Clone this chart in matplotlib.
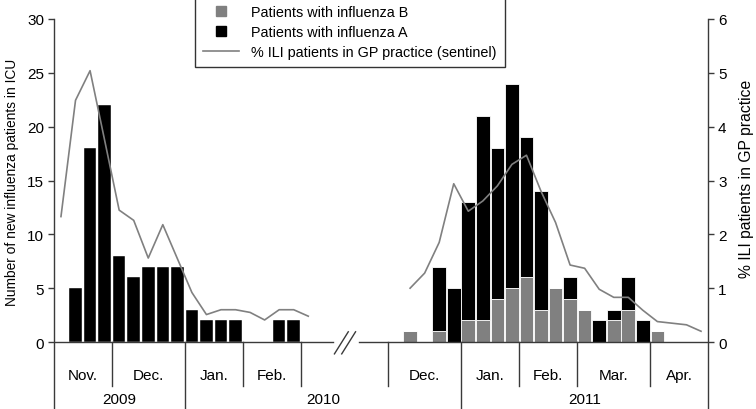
import matplotlib
matplotlib.use("Agg")
import matplotlib.pyplot as plt
import numpy as np
from matplotlib.lines import Line2D

plt.rcParams['font.family'] = ['Liberation Sans', 'DejaVu Sans']
plt.rcParams['font.size'] = 11

# ---------------- data ----------------
# Season 2009/10 (weekly, starting early Nov 2009)
ili_2009 = [2.33, 4.49, 5.04, 3.75, 2.45, 2.26, 1.56, 2.18, 1.55, 0.92,
            0.51, 0.60, 0.60, 0.55, 0.41, 0.60, 0.60, 0.48]
fluA_2009 = [0, 5, 18, 22, 8, 6, 7, 7, 7, 3, 2, 2, 2, 0, 0, 2, 2]

# Season 2010/11 (weekly, starting early Dec 2010)
ili_2011 = [1.00, 1.28, 1.85, 2.94, 2.43, 2.62, 2.90, 3.30, 3.47, 2.80,
            2.22, 1.43, 1.37, 0.98, 0.83, 0.83, 0.59, 0.38, 0.35, 0.32, 0.20]
fluA_2011 = [0, 0, 6, 5, 11, 19, 14, 19, 13, 11, 0, 2, 0, 2, 1, 3, 2, 0]
fluB_2011 = [1, 0, 1, 0, 2, 2, 4, 5, 6, 3, 5, 4, 3, 0, 2, 3, 0, 1]

months_2009 = ["Nov.", "Dec.", "Jan.", "Feb."]
months_2011 = ["Dec.", "Jan.", "Feb.", "Mar.", "Apr."]
years = ["2009", "2010", "2011"]

legend_labels = ["Patients with influenza B", "Patients with influenza A",
                 "% ILI patients in GP practice (sentinel)"]

# ---------------- layout ----------------
W, H = 756, 410
fig = plt.figure(figsize=(W / 100, H / 100), dpi=100)
ax = fig.add_axes([53.7 / W, 0, (708.3 - 53.7) / W, (H - 20) / H])
ax2 = ax.twinx()

LOW = -6.22
ax.set_xlim(-0.5, 44.5)
ax.set_ylim(LOW, 30)
ax2.set_ylim(LOW / 5, 6)

axis_col = '#3a3a3a'
gray = '#808080'

start_2011 = 24
x09 = np.arange(len(fluA_2009))
x11 = np.arange(len(fluA_2011)) + start_2011

# bars
ax.bar(x09, fluA_2009, width=0.86, color='black', edgecolor='white', linewidth=0.3, zorder=2)
ax.bar(x11, fluB_2011, width=0.94, color=gray, edgecolor='white', linewidth=0.6, zorder=2)
ax.bar(x11, fluA_2011, bottom=fluB_2011, width=0.94, color='black', edgecolor='white',
       linewidth=0.6, zorder=2)

# ILI lines
ax2.plot(np.arange(len(ili_2009)), ili_2009, color=gray, lw=1.2, zorder=3)
ax2.plot(np.arange(len(ili_2011)) + start_2011, ili_2011, color=gray, lw=1.2, zorder=3)

# spines
for s in ['top', 'bottom']:
    ax.spines[s].set_visible(False)
    ax2.spines[s].set_visible(False)
ax.spines['right'].set_visible(False)
ax2.spines['left'].set_visible(False)
ax.spines['left'].set_color(axis_col)
ax2.spines['right'].set_color(axis_col)
ax.spines['left'].set_linewidth(1.0)
ax2.spines['right'].set_linewidth(1.0)

ax.set_xticks([])
ax.set_yticks(range(0, 31, 5))
ax2.set_yticks(range(0, 7))
ax.tick_params(axis='y', direction='out', length=4, width=1.0, color=axis_col, pad=3,
               labelsize=11)
ax2.tick_params(axis='y', direction='out', length=4, width=1.0, color=axis_col, pad=3,
                labelsize=11)

# baseline with break
ax.plot([-0.5, 18.68], [0, 0], color=axis_col, lw=1.0, zorder=4)
ax.plot([20.5, 44.5], [0, 0], color=axis_col, lw=1.0, zorder=4)
ax.plot([18.8, 19.75], [-1.1, 0.95], color=axis_col, lw=1.0)
ax.plot([19.3, 20.25], [-1.1, 0.95], color=axis_col, lw=1.0)

# month dividers
short_div = [3.5, 12.5, 16.5, 22.5, 31.5, 35.5, 40.5]
long_div = [8.5, 27.5]
for d in short_div:
    ax.plot([d, d], [0, -4.1], color=axis_col, lw=1.0)
for d in long_div:
    ax.plot([d, d], [0, LOW], color=axis_col, lw=1.0)

month_y = -3.06
year_y = -5.3
m_pos_09 = [1.5, 6, 10.5, 14.5]
m_pos_11 = [25, 29.5, 33.5, 38, 42.5]
for m, p in zip(months_2009, m_pos_09):
    ax.text(p, month_y, m, ha='center', va='center')
for m, p in zip(months_2011, m_pos_11):
    ax.text(p, month_y, m, ha='center', va='center')
for y, p in zip(years, [4, 18, 36]):
    ax.text(p, year_y, y, ha='center', va='center')

# axis labels
fig.text(12 / W, 1 - 182 / H, "Number of new influenza patients in ICU",
         rotation=90, ha='center', va='center', fontsize=9.9)
fig.text(747 / W, 1 - 179 / H, "% ILI patients in GP practice",
         rotation=90, ha='center', va='center', fontsize=11.3)

# legend
handles = [Line2D([], [], ls='none', marker='s', ms=7, color=gray),
           Line2D([], [], ls='none', marker='s', ms=7, color='black'),
           Line2D([], [], color=gray, lw=1.2)]
leg = ax.legend(handles, legend_labels, loc='upper left',
                bbox_to_anchor=(195 / W, 1.0 + 2.0 / H), bbox_transform=fig.transFigure,
                frameon=True, fancybox=False, borderaxespad=0, borderpad=0.55,
                handlelength=2.5, handletextpad=0.85, labelspacing=0.42, fontsize=10.4)
leg.get_frame().set_edgecolor('black')
leg.get_frame().set_linewidth(1.0)
leg.set_zorder(10)

fig.savefig("out.png", dpi=100)
